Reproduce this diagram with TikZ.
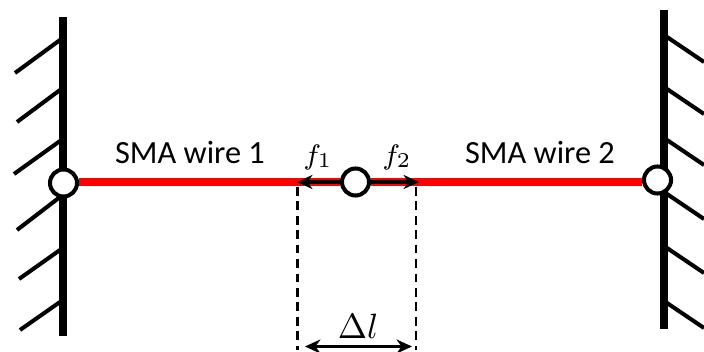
\documentclass[tikz,border=0pt]{standalone}
\usepackage{fontspec}
\setmainfont{Carlito}
\usetikzlibrary{arrows.meta}
\tikzset{
    wall/.style={line width=2.3pt},
    hatch/.style={line width=1.15pt},
    joint/.style={draw, circle, fill=white, line width=1.15pt, minimum size=0.27cm, inner sep=0pt},
    wire/.style={red, line width=2.3pt},
    force/.style={-{Stealth[length=4.4pt,width=4pt]}, line width=1pt},
    guide/.style={dash pattern=on 2.5pt off 1.6pt, line width=0.8pt}
}
\begin{document}
\begin{tikzpicture}[x=0.01cm, y=-0.01cm]
        \useasboundingbox (0,0) rectangle (704,352);

        % Left wall
        \draw[wall] (63,17) -- (63,336);
        \draw[hatch] (60,40) -- (15,73);
        \draw[hatch] (60,90) -- (17,122);
        \draw[hatch] (60,141) -- (14,174);
        \draw[hatch] (60,197) -- (17,230);
        \draw[hatch] (60,250) -- (19,279);
        \draw[hatch] (60,302) -- (20,330);

        % Right wall
        \draw[wall] (664,10) -- (664,329);
        \draw[hatch] (667,37) -- (704,62);
        \draw[hatch] (667,89) -- (704,114);
        \draw[hatch] (667,140) -- (704,165);
        \draw[hatch] (667,194) -- (704,219);
        \draw[hatch] (667,248) -- (704,273);
        \draw[hatch] (667,303) -- (704,328);

        % Joints
        \node[joint] (jointL) at (63.5,183) {};
        \node[joint] (jointM) at (355.5,182) {};
        \node[joint] (jointR) at (657.5,180) {};

        % Wires
        \draw[wire] (jointM -| jointL.east) -- (jointM.west);
        \draw[wire] (jointM.east) -- (jointM -| jointR.west);

        % Forces
        \coordinate (tipL) at (297,182);
        \coordinate (tipR) at (419,182);
        \draw[force] (jointM) -- (tipL);
        \draw[force] (jointM) -- (tipR);
        \node (labelF1) at (318,157) {\fontsize{8.2}{10}\selectfont $f_1$};
        \node (labelF2) at (397,157) {\fontsize{8.2}{10}\selectfont $f_2$};

        % Wire labels
        \node (labelW1) at (190,152) {\fontsize{9.2}{11}\selectfont SMA wire 1};
        \node (labelW2) at (540,152) {\fontsize{9.2}{11}\selectfont SMA wire 2};

        % Elongation
        \coordinate (topL) at (297.5,187);
        \coordinate (topR) at (416,187);
        \coordinate (botL) at (297.5,350);
        \coordinate (botR) at (416,350);
        \draw[guide] (topL) -- (botL);
        \draw[guide] (topR) -- (botR);
        \coordinate (endL) at (305,346.5);
        \coordinate (endR) at (412,346.5);
        \draw[force, {Stealth[length=4.4pt,width=4pt]}-{Stealth[length=4.4pt,width=4pt]}] (endL) -- (endR);
        \node (labelDl) at (358,326) {\fontsize{9.6}{12}\selectfont $\Delta l$};
\end{tikzpicture}
\end{document}
